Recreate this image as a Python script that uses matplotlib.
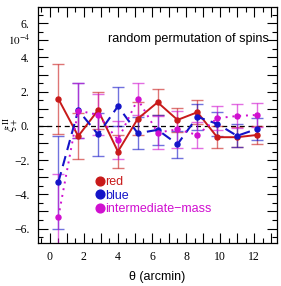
import matplotlib
matplotlib.use("Agg")
import matplotlib.pyplot as plt
from matplotlib.lines import Line2D
from matplotlib.ticker import MultipleLocator, FuncFormatter

# data (units of 1e-4)
theta = [0.5, 1.667, 2.833, 4.0, 5.167, 6.333, 7.5, 8.667, 9.833, 11.0, 12.167]
red = [1.58, -0.6, 0.92, -1.5, 0.42, 1.38, 0.35, 0.8, -0.66, -0.66, -0.53]
red_err = [2.05, 1.34, 1.08, 0.97, 0.95, 0.77, 0.68, 0.7, 0.65, 0.6, 0.55]
blue = [-3.29, 0.92, -0.5, 1.15, -0.43, -0.23, -1.07, 0.53, 0.12, -0.58, -0.18]
blue_err = [2.71, 1.6, 1.25, 1.15, 0.93, 0.88, 0.8, 0.75, 0.72, 0.67, 0.62]
mag = [-5.32, 0.9, 0.64, -0.82, 1.56, -0.39, -0.2, -0.53, 0.45, 0.58, 0.64]
mag_err = [2.53, 1.6, 1.2, 1.1, 0.95, 0.97, 1.1, 0.77, 0.7, 0.7, 0.69]
labels = ["red", "blue", "intermediate\u2212mass"]

c_red, c_blue, c_mag = "#c81a1a", "#1414c8", "#d010d0"

fig = plt.figure(figsize=(2.81, 2.86), dpi=100)
ax = fig.add_axes([0.135, 0.150, 0.851, 0.8255])

ax.axhline(0, color="black", lw=0.9, ls=(0, (4, 3)), zorder=1)

def series(y, e, c, ls, lw):
    ax.errorbar(theta, y, yerr=e, fmt="none", ecolor=c, elinewidth=1.0,
                capsize=4.5, capthick=1.0, alpha=0.6, zorder=2)
    ax.plot(theta, y, color=c, ls=ls, lw=lw, marker="o", ms=3.6, zorder=3)

series(red, red_err, c_red, "-", 1.4)
series(blue, blue_err, c_blue, (0, (5, 3)), 1.5)
series(mag, mag_err, c_mag, (0, (1, 2.5)), 1.4)

ax.set_xlim(-0.7, 13.35)
ax.set_ylim(-6.85, 6.95)

serif = "Liberation Serif"
ax.xaxis.set_major_locator(MultipleLocator(1))
ax.xaxis.set_minor_locator(MultipleLocator(0.5))
ax.yaxis.set_major_locator(MultipleLocator(1))
ax.yaxis.set_minor_locator(MultipleLocator(0.5))
ax.xaxis.set_major_formatter(FuncFormatter(
    lambda v, p: f"{int(round(v))}" if round(v) % 2 == 0 else ""))
ax.yaxis.set_major_formatter(FuncFormatter(
    lambda v, p: (f"{int(round(v))}.".replace("-", "\u2212") if round(v) % 2 == 0 else "")))
ax.tick_params(which="both", direction="in", top=True, right=True, width=0.8)
ax.tick_params(which="major", length=7, labelsize=8.5, pad=6)
ax.tick_params(which="minor", length=3.5)
for lab in ax.get_xticklabels() + ax.get_yticklabels():
    lab.set_fontfamily(serif)
for s in ax.spines.values():
    s.set_linewidth(0.9)

ax.text(-0.03, 5.0, r"$10^{-4}$", transform=ax.get_yaxis_transform(),
        ha="right", va="center", fontsize=8, family=serif,
        math_fontfamily="stix")

ax.set_xlabel("\u03b8 (arcmin)", fontsize=9, family="Liberation Sans",
              va="center")
ax.xaxis.set_label_coords(0.5, -0.143)
ax.set_ylabel(r"$\xi_+^{\rm II}$", fontsize=9, math_fontfamily="stix",
              va="center")
ax.yaxis.set_label_coords(-0.115, 0.5)

ax.text(0.965, 0.865, "random permutation of spins", transform=ax.transAxes,
        ha="right", va="center", fontsize=9.1, family="Liberation Sans")

handles = [Line2D([], [], ls="none", marker="o", ms=6.3, color=c)
           for c in (c_red, c_blue, c_mag)]
leg = ax.legend(handles, labels, loc="upper left",
                bbox_to_anchor=(0.222, 0.31), frameon=False,
                handlelength=0.5, handletextpad=0.15, labelspacing=0.12,
                borderpad=0, prop={"family": "Liberation Sans", "size": 9})
for t, c in zip(leg.get_texts(), (c_red, c_blue, c_mag)):
    t.set_color(c)

fig.savefig("out.png", dpi=100)
